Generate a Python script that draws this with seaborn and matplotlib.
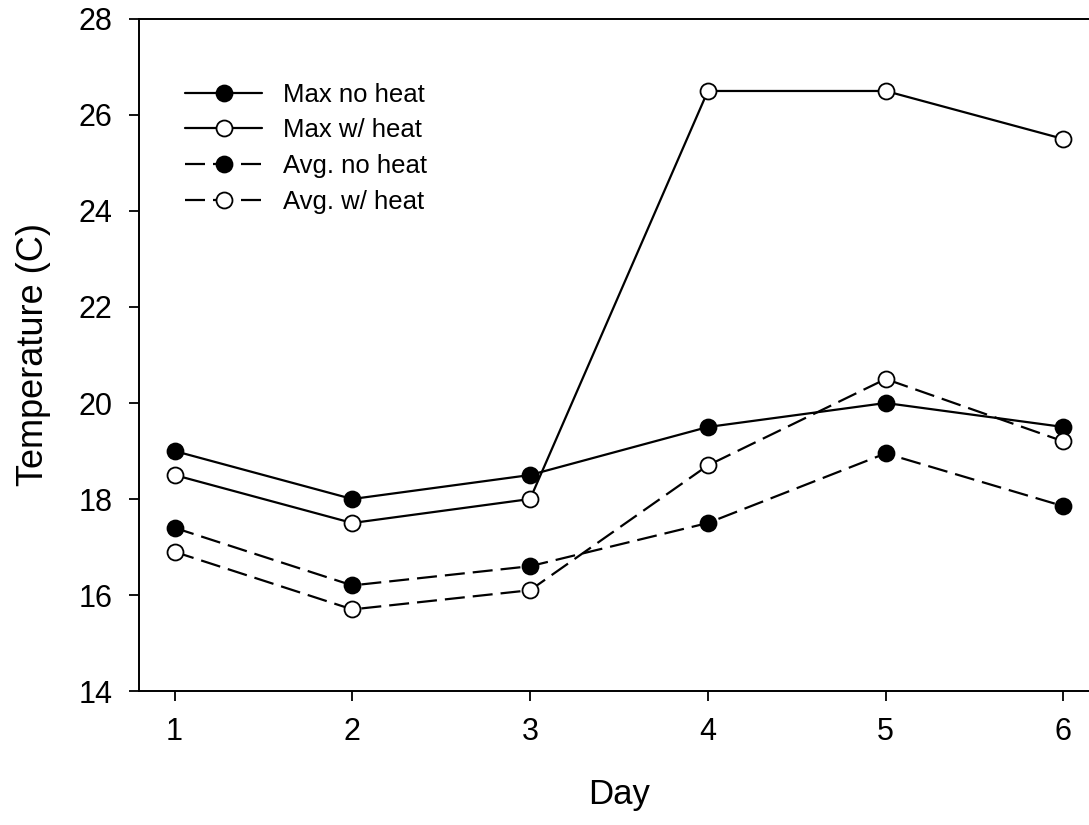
import matplotlib
matplotlib.use("Agg")
import matplotlib.pyplot as plt
import seaborn as sns
import pandas as pd

# Data
days = [1, 2, 3, 4, 5, 6]
max_no_heat = [19.0, 18.0, 18.5, 19.5, 20.0, 19.5]
max_w_heat = [18.5, 17.5, 18.0, 26.5, 26.5, 25.5]
avg_no_heat = [17.4, 16.2, 16.6, 17.5, 18.95, 17.85]
avg_w_heat = [16.9, 15.7, 16.1, 18.7, 20.5, 19.2]

series_names = ["Max no heat", "Max w/ heat", "Avg. no heat", "Avg. w/ heat"]

df = pd.DataFrame({
    "Day": days,
    "Max no heat": max_no_heat,
    "Max w/ heat": max_w_heat,
    "Avg. no heat": avg_no_heat,
    "Avg. w/ heat": avg_w_heat,
})

sns.set_theme(style="ticks")
plt.rcParams["font.family"] = ["Liberation Sans", "DejaVu Sans"]
plt.rcParams["text.color"] = "black"

fig = plt.figure(figsize=(10.89, 8.25), dpi=100)
fig.patch.set_facecolor("white")
# right edge of the axes sits just outside the image, as in the reference
ax = fig.add_axes([0.1276, 0.1624, 0.8816, 0.8146])

dash = (0, (9.0, 3.6))
styles = {
    "Max no heat": dict(linestyle="-", mfc="black"),
    "Max w/ heat": dict(linestyle="-", mfc="white"),
    "Avg. no heat": dict(linestyle=dash, mfc="black"),
    "Avg. w/ heat": dict(linestyle=dash, mfc="white"),
}

for name in series_names:
    st = styles[name]
    sns.lineplot(
        data=df,
        x="Day",
        y=name,
        ax=ax,
        color="black",
        linewidth=1.6,
        linestyle=st["linestyle"],
        marker="o",
        markersize=11.5,
        markerfacecolor=st["mfc"],
        markeredgecolor="black",
        markeredgewidth=1.3,
        label=name,
    )

ax.set_xlim(0.8, 6.2)
ax.set_ylim(14, 28)
ax.set_xticks(days)
ax.set_yticks(range(14, 29, 2))

ax.tick_params(direction="out", length=7, width=1.3, pad=12,
               labelsize=22, colors="black")

for side in ["left", "bottom", "top"]:
    ax.spines[side].set_color("black")
    ax.spines[side].set_linewidth(1.4)
ax.spines["right"].set_visible(False)

ax.set_xlabel("Day", fontsize=25, labelpad=22, color="black")
ax.set_ylabel("Temperature (C)", fontsize=26, labelpad=20, color="black")

ax.legend(
    loc="upper left",
    bbox_to_anchor=(0.048, 0.905),
    frameon=False,
    fontsize=18.5,
    labelcolor="black",
    handlelength=3.0,
    handletextpad=0.82,
    labelspacing=0.45,
    borderpad=0,
    borderaxespad=0,
)

fig.savefig("out.png", dpi=100, facecolor="white")
plt.close(fig)
